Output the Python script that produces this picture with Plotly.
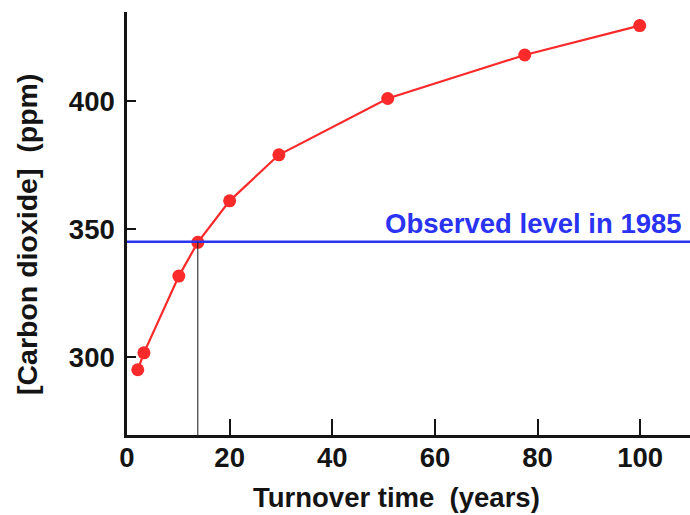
import plotly.graph_objects as go

turnover_years = [2.1, 3.3, 10.1, 13.8, 20.0, 29.6, 50.8, 77.5, 99.9]
co2_ppm = [295, 301.6, 331.6, 344.8, 361, 379, 401, 418, 429.5]
observed_1985 = 345
crossing_years = 13.8
x_ticks = [0, 20, 40, 60, 80, 100]
y_ticks = [300, 350, 400]
x_range = [0, 109.7]
y_range = [269.5, 434.8]

FONT = "Liberation Sans, Arial, sans-serif"
RED = "#fb2a2a"
BLUE = "#2a33f2"
INK = "#141414"
FS = 27.5

fig = go.Figure()
fig.add_trace(go.Scatter(
    x=turnover_years, y=co2_ppm, mode="lines+markers",
    line=dict(color=RED, width=2.2),
    marker=dict(color=RED, size=13),
    showlegend=False, hoverinfo="skip",
))

# observed level line
fig.add_shape(type="line", xref="x", yref="y", x0=x_range[0], x1=x_range[1],
              y0=observed_1985, y1=observed_1985, line=dict(color=BLUE, width=2.6))
# vertical drop line at crossing
fig.add_shape(type="line", xref="x", yref="y", x0=crossing_years, x1=crossing_years,
              y0=y_range[0], y1=observed_1985, line=dict(color=INK, width=1))

fig.add_annotation(x=108.5, y=observed_1985, xref="x", yref="y",
                   text="<b>Observed level in 1985</b>", showarrow=False,
                   xanchor="right", yanchor="bottom", yshift=1,
                   font=dict(family=FONT, size=FS, color=BLUE))

fig.add_annotation(x=396, y=497, xref="paper", yref="paper",
                   text="<b>Turnover time  (years)</b>", showarrow=False,
                   xanchor="center", yanchor="middle",
                   font=dict(family=FONT, size=FS, color=INK))
fig.add_annotation(x=27, y=235, xref="paper", yref="paper",
                   text="<b>[Carbon dioxide]  (ppm)</b>", showarrow=False,
                   textangle=-90, xanchor="center", yanchor="middle",
                   font=dict(family=FONT, size=28.5, color=INK))

W, H = 690, 515
ML, MR, MT, MB = 127, 0, 12, 80
# convert pixel annotation positions to paper coords
for ann in fig.layout.annotations[1:]:
    ann.x = (ann.x - ML) / (W - ML - MR)
    ann.y = 1 - (ann.y - MT) / (H - MT - MB)

fig.update_layout(
    width=W, height=H,
    margin=dict(l=ML, r=MR, t=MT, b=MB, pad=0),
    paper_bgcolor="white", plot_bgcolor="white",
    font=dict(family=FONT, size=FS, color=INK),
    xaxis=dict(range=x_range, tickvals=x_ticks, ticks="inside", ticklen=16,
               tickwidth=2, tickcolor=INK, showline=True, linecolor=INK, linewidth=2.5,
               showgrid=False, zeroline=False, tickfont=dict(family=FONT, size=FS, color=INK, weight="bold"),
               ticklabelstandoff=-4),
    yaxis=dict(range=y_range, tickvals=y_ticks, ticks="inside", ticklen=9,
               tickwidth=2, tickcolor=INK, showline=True, linecolor=INK, linewidth=2.5,
               showgrid=False, zeroline=False, tickfont=dict(family=FONT, size=FS, color=INK, weight="bold"),
               ticklabelstandoff=4),
)

fig.write_html("out.html")
